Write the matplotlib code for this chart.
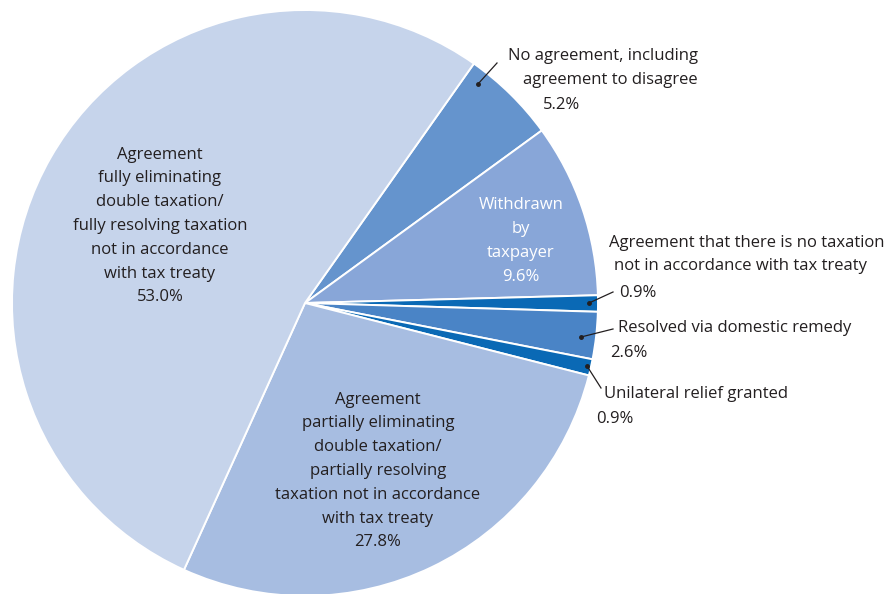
import matplotlib
matplotlib.use("Agg")
import matplotlib.pyplot as plt

# Outcome shares (%) in clockwise order, starting from the top-right wedge
categories = [
    "No agreement, including agreement to disagree",
    "Withdrawn by taxpayer",
    "Agreement that there is no taxation not in accordance with tax treaty",
    "Resolved via domestic remedy",
    "Unilateral relief granted",
    "Agreement partially eliminating double taxation/partially resolving taxation not in accordance with tax treaty",
    "Agreement fully eliminating double taxation/fully resolving taxation not in accordance with tax treaty",
]
shares = [5.2, 9.6, 0.9, 2.6, 0.9, 27.8, 53.0]
colors = ["#6594cd", "#88a6d8", "#0a69b5", "#4a84c6", "#0a69b5", "#a7bde1", "#c6d4eb"]

W, H = 890, 594
fig = plt.figure(figsize=(W / 100, H / 100), dpi=100)
ax = fig.add_axes([0, 0, 1, 1])

cx, cy, r = 305, H - 303, 293
ax.pie(shares, colors=colors, startangle=54.8, counterclock=False,
       center=(cx, cy), radius=r,
       wedgeprops=dict(edgecolor="white", linewidth=1.4))
ax.set_xlim(0, W)
ax.set_ylim(0, H)
ax.set_aspect("equal")
ax.axis("off")

font = "Open Sans"
fs = 12.0
tc = "#231f20"


def txt(x, y, s, ha="center", color=tc, ls=1.65):
    ax.text(x, H - y, s, ha=ha, va="center", fontsize=fs, family=font,
            color=color, linespacing=ls)


def leader(x0, y0, x1, y1):
    ax.plot([x0, x1], [H - y0, H - y1], color=tc, lw=0.9)
    ax.plot([x0], [H - y0], "o", color=tc, ms=2.5)


# Large in-wedge labels
txt(160, 226, "Agreement\nfully eliminating\ndouble taxation/\nfully resolving taxation\n"
    "not in accordance\nwith tax treaty\n53.0%")
txt(378, 471, "Agreement\npartially eliminating\ndouble taxation/\npartially resolving\n"
    "taxation not in accordance\nwith tax treaty\n27.8%")
txt(521, 241, "Withdrawn\nby\ntaxpayer\n9.6%", color="white")

# Outside labels with leader lines
txt(698, 68, "No agreement, including\nagreement to disagree", ha="right")
txt(543, 105, "5.2%", ha="left")
leader(478, 84, 497, 63)

txt(609, 243, "Agreement that there is no taxation", ha="left")
txt(614, 266, "not in accordance with tax treaty", ha="left")
txt(619, 293, "0.9%", ha="left")
leader(589, 303, 613, 292)

txt(618, 328, "Resolved via domestic remedy", ha="left")
txt(610, 353, "2.6%", ha="left")
leader(581, 337, 613, 329)

txt(604, 394, "Unilateral relief granted", ha="left")
txt(596, 419, "0.9%", ha="left")
leader(587, 366, 601, 388)

fig.savefig("out.png", dpi=100)
